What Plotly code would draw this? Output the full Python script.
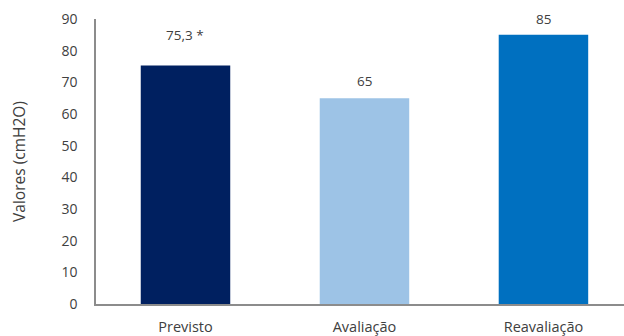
import plotly.graph_objects as go

# Pressure values per measurement moment
categories = ["Previsto", "Avaliação", "Reavaliação"]
values = [75.3, 65, 85]
value_labels = ["75,3 *", "65", "85"]
bar_colors = ["#002060", "#9DC3E6", "#0070C0"]
label_offsets = [31, 17, 16]
y_ticks = [0, 10, 20, 30, 40, 50, 60, 70, 80, 90]

font_family = "Open Sans, Liberation Sans, sans-serif"
text_color = "#404040"

fig = go.Figure(
    go.Bar(
        x=categories,
        y=values,
        marker=dict(color=bar_colors, line=dict(width=0)),
        width=0.5,
        hoverinfo="skip",
    )
)

for cat, val, lab, off in zip(categories, values, value_labels, label_offsets):
    fig.add_annotation(
        x=cat, y=val, text=lab, showarrow=False,
        yshift=off, font=dict(size=13.5, color=text_color, family=font_family),
    )

fig.update_layout(
    width=624,
    height=336,
    margin=dict(l=96, r=0, t=19, b=32),
    plot_bgcolor="white",
    paper_bgcolor="white",
    showlegend=False,
    font=dict(family=font_family, color=text_color),
    xaxis=dict(
        range=[-0.5, 2.45],
        automargin=False,
        showline=True,
        linecolor="#8C8C8C",
        linewidth=1.5,
        showgrid=False,
        ticks="",
        ticklabelstandoff=9,
        tickfont=dict(size=14.5, color=text_color),
    ),
    yaxis=dict(
        range=[0, 90],
        automargin=False,
        tickvals=y_ticks,
        showline=True,
        linecolor="#8C8C8C",
        linewidth=1.5,
        showgrid=False,
        zeroline=False,
        ticks="",
        ticklabelstandoff=14,
        tickfont=dict(size=14, color=text_color),
        title=dict(text="Valores (cmH2O)", standoff=32,
                   font=dict(size=15.5, color=text_color)),
    ),
)

fig.write_html("out.html")
